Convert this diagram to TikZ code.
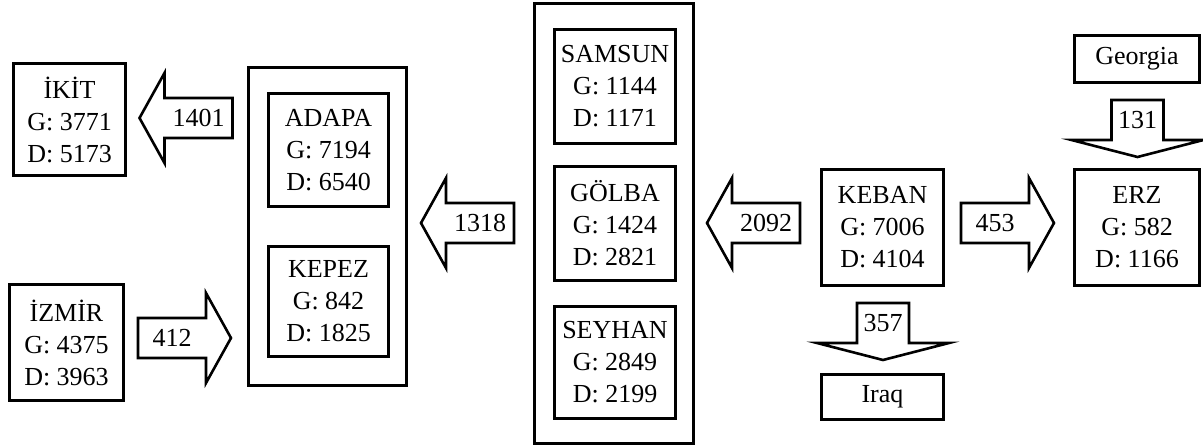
\documentclass[tikz,border=0pt]{standalone}
\usepackage{fontspec}
\setmainfont{Liberation Serif}
\usetikzlibrary{positioning,calc}

\begin{document}
\begin{tikzpicture}[x=1pt, y=1pt, line width=3pt,
    box/.style={draw=black, rectangle, font=\fontsize{26}{32}\selectfont, align=center, inner sep=0pt},
    group/.style={draw=black, rectangle, inner sep=0pt},
    shaft/.style={rectangle, inner sep=0pt, outer sep=0pt, minimum width=68pt, minimum height=40pt, font=\fontsize{26}{32}\selectfont},
    dshaft/.style={shaft, minimum width=52pt},
    flow/.style={draw=black, line width=2.6pt, line join=miter}]

  \useasboundingbox (0,0) rectangle (1203,447);

  % Cajas exteriores (grupos)
  \node[group, minimum width=158pt, minimum height=318pt] (west) at (327.5,220.5) {};
  \node[group, minimum width=159pt, minimum height=440pt] (centre) at (614,223.5) {};

  % Nodos de la izquierda
  \node[box, minimum width=112pt, minimum height=112pt] (ikit) at (69.5,327.5) {İKİT\\G: 3771\\D: 5173};
  \node[box, minimum width=114pt, minimum height=116pt] (izmir) at (66.5,104.5) {İZMİR\\G: 4375\\D: 3963};
  \node[box, minimum width=120pt, minimum height=113pt] (adapa) at (328.5,297) {ADAPA\\G: 7194\\D: 6540};
  \node[box, minimum width=120pt, minimum height=110pt] (kepez) at (328.5,145.5) {KEPEZ\\G: 842\\D: 1825};

  % Nodos centrales
  \node[box, minimum width=121pt, minimum height=114pt] (samsun) at (615,360.5) {SAMSUN\\G: 1144\\D: 1171};
  \node[box, minimum width=121pt, minimum height=114pt] (golba) at (615,223.5) {GÖLBA\\G: 1424\\D: 2821};
  \node[box, minimum width=121pt, minimum height=112pt] (seyhan) at (615,84.5) {SEYHAN\\G: 2849\\D: 2199};

  % Nodos de la derecha
  \node[box, minimum width=122pt, minimum height=116pt] (keban) at (882.5,219.5) {KEBAN\\G: 7006\\D: 4104};
  \node[box, minimum width=125pt, minimum height=116pt] (erz) at (1137,219.5) {ERZ\\G: 582\\D: 1166};
  \node[box, minimum width=125pt, minimum height=47pt, above=84pt of erz] (georgia) {Georgia};
  \node[box, minimum width=122pt, minimum height=45pt, below=86pt of keban] (iraq) {Iraq};

  % Flechas horizontales (el texto va en el cuerpo)
  \node[shaft] (f1401) at (198.5,329) {1401};
  \node[shaft] (f412) at (172,109) {412};
  \node[shaft] (f1318) at (480,224) {1318};
  \node[shaft] (f2092) at (766,224) {2092};
  \node[shaft] (f453) at (995,224) {453};

  \draw[flow] (f1401.north east) -- (f1401.north west) -- ++(0,25) -- ($(f1401.west)+(-25,0)$) -- ($(f1401.south west)+(0,-25)$) -- (f1401.south west) -- (f1401.south east) -- cycle;
  \draw[flow] (f1318.north east) -- (f1318.north west) -- ++(0,25) -- ($(f1318.west)+(-25,0)$) -- ($(f1318.south west)+(0,-25)$) -- (f1318.south west) -- (f1318.south east) -- cycle;
  \draw[flow] (f2092.north east) -- (f2092.north west) -- ++(0,25) -- ($(f2092.west)+(-25,0)$) -- ($(f2092.south west)+(0,-25)$) -- (f2092.south west) -- (f2092.south east) -- cycle;
  \draw[flow] (f412.north west) -- (f412.north east) -- ++(0,25) -- ($(f412.east)+(25,0)$) -- ($(f412.south east)+(0,-25)$) -- (f412.south east) -- (f412.south west) -- cycle;
  \draw[flow] (f453.north west) -- (f453.north east) -- ++(0,25) -- ($(f453.east)+(25,0)$) -- ($(f453.south east)+(0,-25)$) -- (f453.south east) -- (f453.south west) -- cycle;

  % Flechas verticales (cabeza ancha y plana)
  \node[dshaft] (f131) at (1137.5,327) {131};
  \node[dshaft] (f357) at (883,124) {357};

  \draw[flow] (f131.north west) -- (f131.south west) -- ++(-40,0) -- ($(f131.south)+(0,-17)$) -- ($(f131.south east)+(40,0)$) -- (f131.south east) -- (f131.north east) -- cycle;
  \draw[flow] (f357.north west) -- (f357.south west) -- ++(-40,0) -- ($(f357.south)+(0,-17)$) -- ($(f357.south east)+(40,0)$) -- (f357.south east) -- (f357.north east) -- cycle;

\end{tikzpicture}
\end{document}
